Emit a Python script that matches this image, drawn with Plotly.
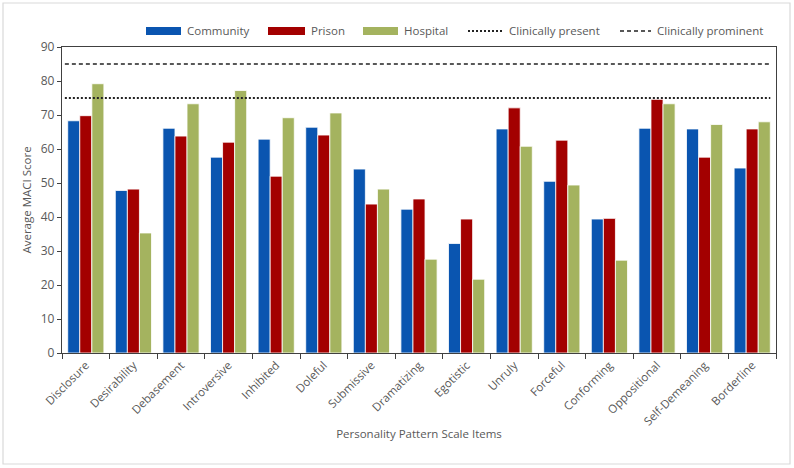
import plotly.graph_objects as go

categories = ["Disclosure", "Desirability", "Debasement", "Introversive", "Inhibited",
              "Doleful", "Submissive", "Dramatizing", "Egotistic", "Unruly",
              "Forceful", "Conforming", "Oppositional", "Self-Demeaning", "Borderline"]
community = [68.3, 47.8, 66.1, 57.6, 62.9, 66.4, 54.1, 42.3, 32.2, 65.9, 50.5, 39.4, 66.1, 65.9, 54.4]
prison = [69.8, 48.2, 63.8, 62.0, 52.0, 64.1, 43.8, 45.3, 39.4, 72.1, 62.6, 39.6, 74.6, 57.6, 65.9]
hospital = [79.2, 35.3, 73.3, 77.2, 69.2, 70.6, 48.2, 27.6, 21.7, 60.8, 49.4, 27.3, 73.3, 67.2, 68.0]
clinically_present = 75
clinically_prominent = 85
y_ticks = [0, 10, 20, 30, 40, 50, 60, 70, 80, 90]

BLUE = "#0A55B0"
RED = "#A30000"
GREEN = "#A4B35F"
TXT = "#595959"
FONT = "Open Sans"
DOT = dict(color="#222", width=1.8, dash="2px,2px")
DASH = dict(color="#222", width=1.3, dash="4px,3px")

W, H = 794, 468
ML, MR, MT, MB = 62, 18, 47, 115

fig = go.Figure()
for name, vals, col in [("Community", community, BLUE), ("Prison", prison, RED), ("Hospital", hospital, GREEN)]:
    fig.add_trace(go.Bar(x=categories, y=vals, name=name,
                         marker=dict(color=col, line=dict(color="white", width=0.8)),
                         showlegend=False))

# reference lines
fig.add_shape(type="line", xref="x domain", yref="y", x0=0.004, x1=0.992,
              y0=clinically_present, y1=clinically_present, line=DOT)
fig.add_shape(type="line", xref="x domain", yref="y", x0=0.004, x1=0.992,
              y0=clinically_prominent, y1=clinically_prominent, line=DASH)


def px_x(p):
    return (p - ML) / (W - ML - MR)


def px_y(p):
    return (H - MB - p) / (H - MT - MB)


# custom legend (swatch left px, swatch right px, label)
LY = 31
legend_items = [("Community", BLUE, None, 146, 181), ("Prison", RED, None, 268, 305),
                ("Hospital", GREEN, None, 363, 398),
                ("Clinically present", None, DOT, 468, 503), ("Clinically prominent", None, DASH, 620, 651)]
for name, col, ln, a, b in legend_items:
    if col:
        fig.add_shape(type="rect", xref="paper", yref="paper", x0=px_x(a), x1=px_x(b),
                      y0=px_y(LY + 4), y1=px_y(LY - 4), fillcolor=col, line=dict(width=0))
    else:
        fig.add_shape(type="line", xref="paper", yref="paper", x0=px_x(a), x1=px_x(b),
                      y0=px_y(LY), y1=px_y(LY), line=ln)
    fig.add_annotation(text=name, xref="paper", yref="paper", x=px_x(b + 4), y=px_y(LY),
                       xanchor="left", yanchor="middle", showarrow=False,
                       font=dict(size=11.5, color=TXT, family=FONT))

# outer border
fig.add_shape(type="rect", xref="paper", yref="paper", x0=px_x(3), x1=px_x(790), y0=px_y(464), y1=px_y(3),
              line=dict(color="#D9D9D9", width=1.2), layer="below")

fig.update_layout(
    width=W, height=H,
    margin=dict(l=ML, r=MR, t=MT, b=MB, autoexpand=False),
    paper_bgcolor="white", plot_bgcolor="white",
    font=dict(family=FONT, color=TXT, size=11),
    barmode="group", bargap=0.24, bargroupgap=0.0,
    showlegend=False,
    xaxis=dict(tickangle=-45, showline=True, linecolor="#404040", linewidth=1.3, mirror=True,
               ticks="outside", tickson="boundaries", ticklen=5, tickcolor="#404040",
               tickfont=dict(size=11.5, color=TXT), automargin=False,
               title=dict(text="Personality Pattern Scale Items", font=dict(size=11.5, color=TXT), standoff=2)),
    yaxis=dict(range=[0, 90], tickvals=y_ticks, showline=True, linecolor="#404040", linewidth=1.3, mirror=True,
               ticks="outside", ticklen=4, tickcolor="#404040", showgrid=False, zeroline=False,
               tickfont=dict(size=12, color=TXT), automargin=False,
               title=dict(text="Average MACI Score", font=dict(size=11.5, color=TXT), standoff=6)),
)

fig.write_html("out.html", config={"displayModeBar": False},
               post_script="document.body.style.margin='0';document.body.style.overflow='hidden';")
